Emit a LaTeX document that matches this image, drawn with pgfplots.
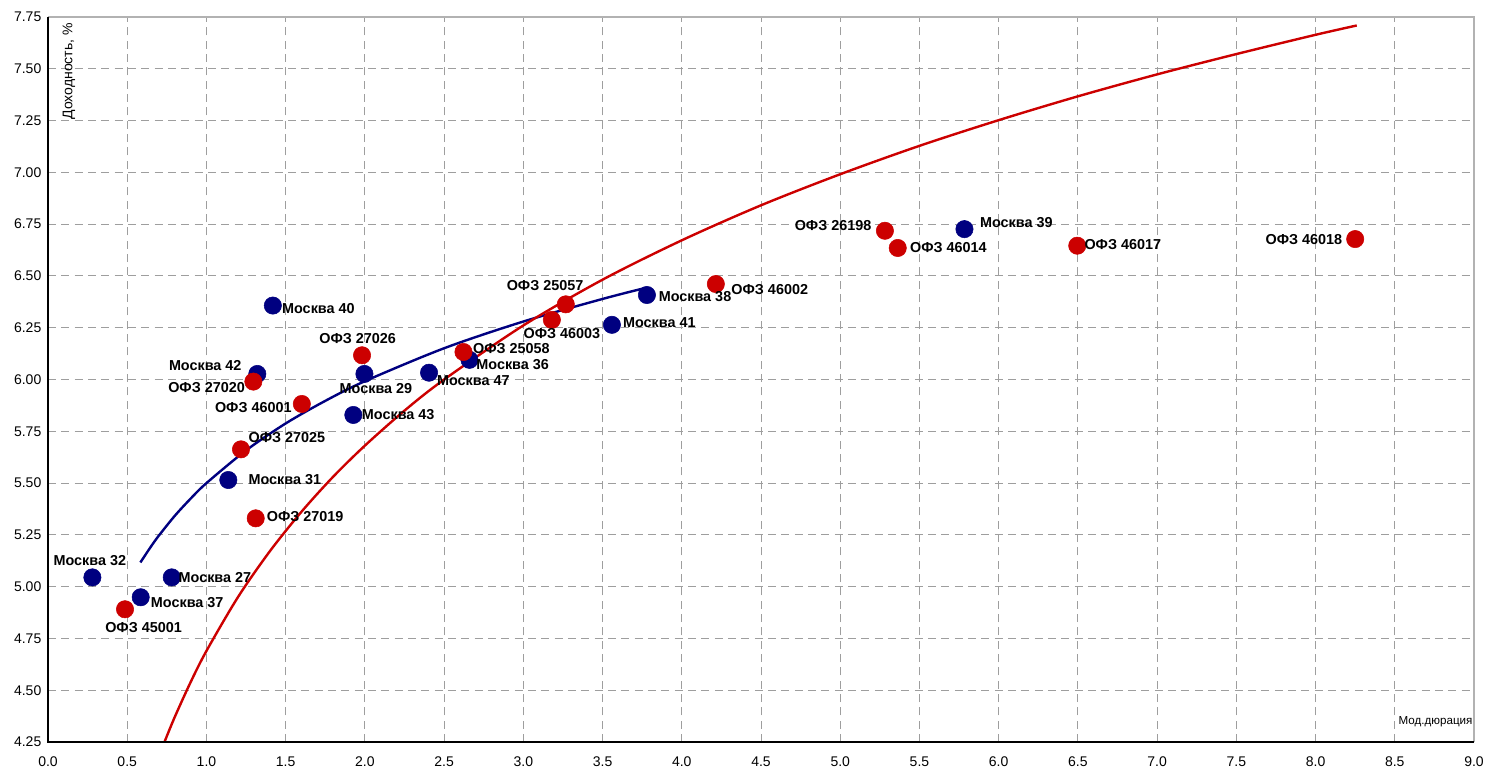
\documentclass[border=0pt]{standalone}
\usepackage{fontspec}
\setmainfont{Liberation Sans}
\usepackage{pgfplots}
\usepackage{pgfplotstable}
\pgfplotsset{compat=1.18}
\definecolor{navyblue}{RGB}{0,0,128}
\definecolor{ofzred}{RGB}{204,0,0}

% Moscow bonds (blue)
\pgfplotstableread{
x y
0.280 5.045
0.585 4.949
0.781 5.045
1.138 5.515
1.321 6.027
1.419 6.357
1.927 5.829
1.997 6.027
2.405 6.033
2.660 6.095
3.559 6.264
3.780 6.408
5.784 6.726
}\moscow

% OFZ bonds (red)
\pgfplotstableread{
x y
0.486 4.891
1.218 5.663
1.296 5.990
1.311 5.330
1.602 5.882
1.982 6.117
2.622 6.133
3.180 6.288
3.268 6.363
4.215 6.461
5.282 6.718
5.363 6.635
6.496 6.646
8.250 6.678
}\ofz

% label positions
\pgfplotstableread[col sep=comma]{
x,y,label
0.648,4.922,Москва 37
0.823,5.045,Москва 27
1.264,5.515,Москва 31
1.476,6.341,Москва 40
1.980,5.829,Москва 43
2.454,5.994,Москва 47
2.702,6.071,Москва 36
3.628,6.275,Москва 41
3.853,6.400,Москва 38
5.881,6.760,Москва 39
1.264,5.719,ОФЗ 27025
1.380,5.338,ОФЗ 27019
2.681,6.151,ОФЗ 25058
4.312,6.432,ОФЗ 46002
5.439,6.635,ОФЗ 46014
6.540,6.651,ОФЗ 46017
}\labwest

\pgfplotstableread[col sep=comma]{
x,y,label
1.223,6.067,Москва 42
1.244,5.963,ОФЗ 27020
1.539,5.864,ОФЗ 46001
5.198,6.742,ОФЗ 26198
8.170,6.678,ОФЗ 46018
}\labeast

\pgfplotstableread[col sep=comma]{
x,y,label
0.264,5.127,Москва 32
2.070,5.955,Москва 29
0.603,4.803,ОФЗ 45001
1.954,6.199,ОФЗ 27026
3.243,6.224,ОФЗ 46003
3.137,6.453,ОФЗ 25057
}\labcenter

\pgfplotstableread{
x y
0.583 5.117
0.65 5.194
0.70 5.247
0.80 5.342
0.90 5.425
1.00 5.500
1.25 5.658
1.50 5.788
1.75 5.897
2.00 5.992
2.50 6.151
3.00 6.280
3.50 6.389
3.78 6.444
}\moscowtrend

\pgfplotstableread{
x y
0.735 4.250
0.80 4.371
0.90 4.539
1.00 4.690
1.20 4.951
1.40 5.171
1.60 5.362
1.80 5.531
2.00 5.681
2.25 5.850
2.50 6.000
3.00 6.261
3.50 6.482
4.00 6.672
4.50 6.841
5.00 6.991
5.50 7.128
6.00 7.252
6.50 7.367
7.00 7.473
7.50 7.571
8.00 7.664
8.26 7.709
}\ofztrend

\begin{document}
\begin{tikzpicture}
\begin{axis}[
  scale only axis,
  width=1069.5pt, height=543.75pt,
  xmin=0, xmax=9, ymin=4.25, ymax=7.75,
  xtick={0,0.5,1,1.5,2,2.5,3,3.5,4,4.5,5,5.5,6,6.5,7,7.5,8,8.5,9},
  ytick={4.25,4.5,4.75,5,5.25,5.5,5.75,6,6.25,6.5,6.75,7,7.25,7.5,7.75},
  /pgf/number format/assume math mode=true,
  xticklabel style={/pgf/number format/.cd,fixed,fixed zerofill,precision=1,/tikz/.cd,yshift=-7.5pt},
  yticklabel style={/pgf/number format/.cd,fixed,fixed zerofill,precision=2,/tikz/.cd,xshift=-1.5pt},
  tick label style={font=\fontsize{10.5}{12}\selectfont},
  major tick length=0pt,
  grid=major,
  major grid style={black!38, dash pattern=on 6pt off 4pt, line width=0.75pt},
  axis line style={draw=none},
  clip=false,
  lbl/.style={only marks, mark=none, nodes near coords={\pgfplotspointmeta}, point meta=explicit symbolic,
    every node near coord/.append style={font=\fontsize{10.8}{12}\selectfont\bfseries, inner sep=0pt, text=black, anchor=#1}},
]
\addplot[only marks, mark=*, mark size=6.5pt, color=navyblue] table[x=x, y=y] {\moscow};
\addplot[only marks, mark=*, mark size=6.5pt, color=ofzred] table[x=x, y=y] {\ofz};
\addplot[navyblue, line width=1.8pt, smooth, no marks] table[x=x, y=y] {\moscowtrend};
\addplot[ofzred, line width=1.8pt, smooth, no marks] table[x=x, y=y] {\ofztrend};
\addplot[lbl=west] table[x=x, y=y, meta=label] {\labwest};
\addplot[lbl=east] table[x=x, y=y, meta=label] {\labeast};
\addplot[lbl=center] table[x=x, y=y, meta=label] {\labcenter};
\draw[black!30, line width=1.6pt] (rel axis cs:0,1) -- (rel axis cs:1,1) -- (rel axis cs:1,0);
\draw[black, line width=1pt] (rel axis cs:0,1) -- (rel axis cs:0,0) -- (rel axis cs:1,0);
\node[rotate=90, anchor=east, inner sep=0pt, font=\fontsize{10.5}{12}\selectfont] at ([xshift=15.75pt,yshift=-4.5pt]rel axis cs:0,1) {Доходность, \%};
\node[anchor=east, inner sep=0pt, font=\fontsize{8.7}{10}\selectfont] at ([xshift=-1pt,yshift=15pt]rel axis cs:1,0) {Мод.дюрация};
\end{axis}
\path ([xshift=-36pt,yshift=-22.5pt]current axis.south west) rectangle ([xshift=18.75pt,yshift=12.75pt]current axis.north east);
\end{tikzpicture}
\end{document}
